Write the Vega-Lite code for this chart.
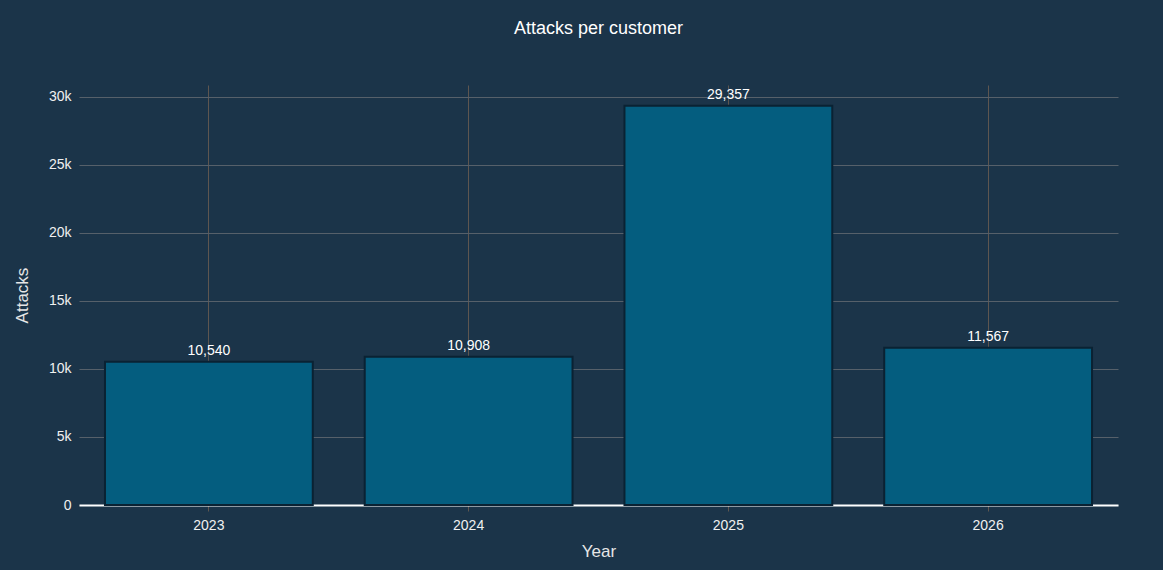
{
  "$schema": "https://vega.github.io/schema/vega-lite/v6.json",
  "autosize": {"type": "none"},
  "width": 1039,
  "height": 420,
  "padding": {"left": 79, "top": 85, "right": 45, "bottom": 65},
  "background": "#1b3449",
  "title": {
    "text": "Attacks per customer",
    "anchor": "middle",
    "font": "Liberation Sans",
    "fontSize": 18,
    "fontWeight": "normal",
    "color": "#ffffff",
    "offset": 47
  },
  "config": {
    "view": {"stroke": null},
    "font": "Liberation Sans",
    "axis": {
      "labelFont": "Liberation Sans",
      "titleFont": "Liberation Sans",
      "labelColor": "#f0f0f0",
      "titleColor": "#e6e6e6",
      "labelFontSize": 14,
      "titleFontSize": 17,
      "titleFontWeight": "normal"
    }
  },
  "data": {
    "values": [
      {"Year": "2023", "Attacks": 10540},
      {"Year": "2024", "Attacks": 10908},
      {"Year": "2025", "Attacks": 29357},
      {"Year": "2026", "Attacks": 11567}
    ]
  },
  "encoding": {
    "x": {
      "field": "Year",
      "type": "ordinal",
      "scale": {"paddingInner": 0.2, "paddingOuter": 0.1},
      "axis": {
        "title": "Year",
        "labelAngle": 0,
        "labelPadding": 7,
        "titlePadding": 11,
        "grid": true,
        "bandPosition": 0.5,
        "gridColor": "#5e5650",
        "gridWidth": 1,
        "domainColor": "#ffffff",
        "domainWidth": 2,
        "tickColor": "#5e5650",
        "tickSize": 6
      }
    },
    "y": {
      "field": "Attacks",
      "type": "quantitative",
      "scale": {"domain": [0, 30880], "nice": false},
      "axis": {
        "title": "Attacks",
        "values": [0, 5000, 10000, 15000, 20000, 25000, 30000],
        "labelExpr": "datum.value == 0 ? '0' : format(datum.value / 1000, 'd') + 'k'",
        "labelPadding": 8,
        "titlePadding": 17,
        "ticks": false,
        "domain": false,
        "gridColor": "#56606a",
        "gridWidth": 1
      }
    }
  },
  "layer": [
    {
      "mark": {
        "type": "bar",
        "color": "#045d7f",
        "stroke": "#0a2233",
        "strokeWidth": 2
      }
    },
    {
      "mark": {
        "type": "text",
        "baseline": "bottom",
        "dy": -4,
        "fontSize": 14,
        "color": "#ffffff",
        "font": "Liberation Sans"
      },
      "encoding": {
        "text": {"field": "Attacks", "type": "quantitative", "format": ","}
      }
    }
  ]
}
